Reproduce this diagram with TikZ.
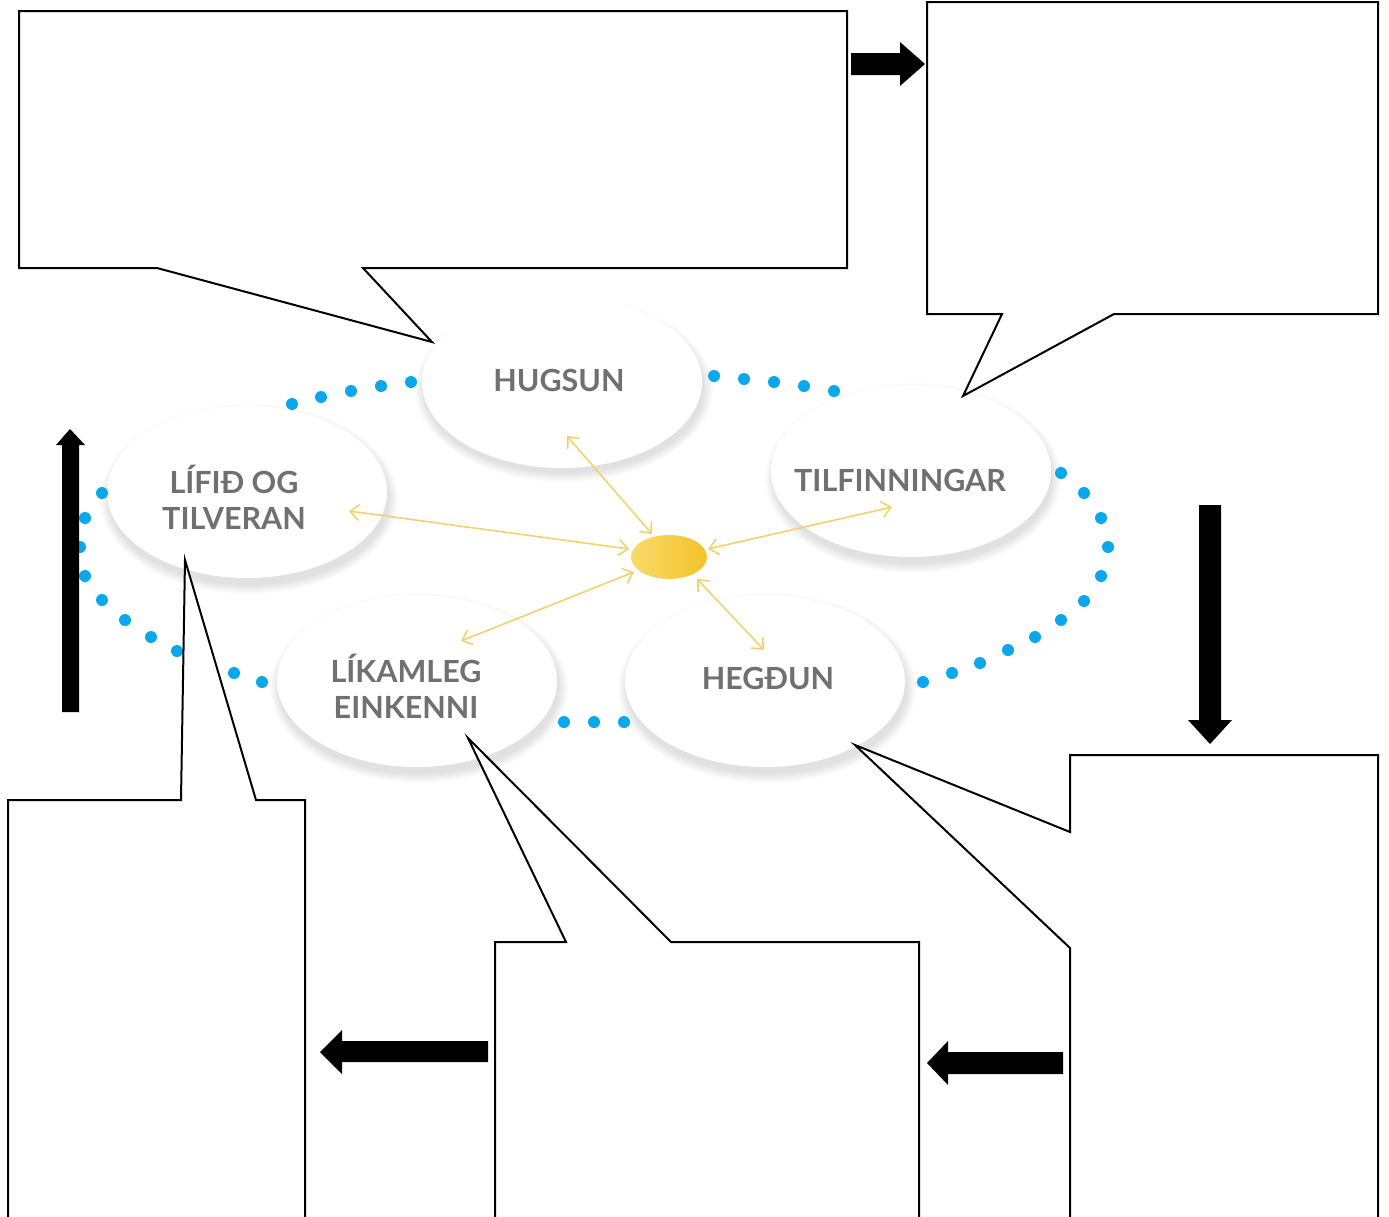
\documentclass[tikz,border=0pt]{standalone}
\usepackage{fontspec}
\usetikzlibrary{arrows.meta,shapes.geometric}
\newfontfamily\labfont{Lato}
\definecolor{labgray}{HTML}{707072}
\definecolor{dotblue}{HTML}{0AA8EA}
\definecolor{arrowyel}{HTML}{F3D26E}
\definecolor{sunA}{HTML}{F8DA6A}
\definecolor{sunB}{HTML}{F4C22A}
\tikzset{
  callout/.style={draw=black,fill=white,line width=2pt,line join=miter},
  blockarrow/.style={fill=black,draw=none},
  bubble/.style={ellipse,fill=white,draw=none,minimum width=280pt,minimum height=172pt,inner sep=0pt},
  lab/.style={text=labgray,font=\labfont\bfseries\fontsize{30.5}{36}\selectfont,align=center},
  dot/.style={fill=dotblue,draw=none},
  ray/.style={draw=arrowyel,line width=1.6pt,{Straight Barb[length=9pt,width=16pt]}-{Straight Barb[length=9pt,width=16pt]}},
}
\newcommand{\softshadow}[4]{%
  \foreach \i in {0,...,9}{
    \fill[black,opacity=0.012] (#1+2,#2+7) ellipse ({#3+\i*1.0} and {#4+\i*1.0});
  }%
}
\begin{document}
\begin{tikzpicture}[x=1pt,y=-1pt]
\useasboundingbox (0,0) rectangle (1389,1216);
\fill[white] (0,0) rectangle (1389,1216);

% soft shadows of bubbles
\softshadow{562}{382}{140}{84}
\softshadow{247}{492}{140}{86}
\softshadow{911}{471}{139}{86}
\softshadow{417}{681}{140}{86}
\softshadow{765}{681}{140}{86}

% bubbles
\node[bubble] (hug) at (562,382) {};
\node[bubble] (lif) at (247,492) {};
\node[bubble] (til) at (911,471) {};
\node[bubble] (lik) at (417,681) {};
\node[bubble] (heg) at (765,681) {};

% labels
\node[lab] (hugT) at (559,380) {HUGSUN};
\node[lab] (lifT) at (234,497) {LÍFIÐ OG\\TILVERAN};
\node[lab] (tilT) at (900,480) {TILFINNINGAR};
\node[lab] (likT) at (406,686) {LÍKAMLEG\\EINKENNI};
\node[lab] (hegT) at (768,678) {HEGÐUN};

% blue dots
\foreach \x/\y in {292/404,321/397,351/391,381/386,411/382,
  714/376,744/379,774/382,804/386,834/391,
  1061/473,1084/493,1101/518,1108/547,1101/576,1084/601,1061/620,1035/637,1008/650,980/663,952/673,923/682,
  564/722,594/722,624/722,
  102/493,85/518,80/547,85/576,102/600,125/620,151/637,177/651,205/663,234/673,262/682}
  \fill[dot] (\x,\y) circle (6);

% central sun
\node[ellipse,minimum width=76pt,minimum height=44pt,inner sep=0pt,left color=sunA,right color=sunB,draw=none] (sun) at (669,557) {};

% ray endpoints
\coordinate (rHa) at (567,436); \coordinate (rHb) at (652,534);
\coordinate (rLa) at (349,511); \coordinate (rLb) at (629,549);
\coordinate (rTa) at (892,507); \coordinate (rTb) at (708,549);
\coordinate (rKa) at (461,641); \coordinate (rKb) at (634,572);
\coordinate (rEa) at (764,650); \coordinate (rEb) at (697,579);
\draw[ray] (rHa) -- (rHb);
\draw[ray] (rLa) -- (rLb);
\draw[ray] (rTa) -- (rTb);
\draw[ray] (rKa) -- (rKb);
\draw[ray] (rEa) -- (rEb);

% callouts
\draw[callout] (19,11) -- (847,11) -- (847,268) -- (363,268) -- (432,342) -- (157,268) -- (19,268) -- cycle;
\draw[callout] (927,2) -- (1378,2) -- (1378,314) -- (1114,314) -- (963,396) -- (1002,314) -- (927,314) -- cycle;
\draw[callout] (8,800) -- (181,800) -- (185,560) -- (256,800) -- (305,800) -- (305,1230) -- (8,1230) -- cycle;
\draw[callout] (495,942) -- (566,942) -- (468,738) -- (671,942) -- (919,942) -- (919,1230) -- (495,1230) -- cycle;
\draw[callout] (1070,755) -- (1378,755) -- (1378,1230) -- (1070,1230) -- (1070,948) -- (855,745) -- (1070,832) -- cycle;

% block arrows
\fill[blockarrow] (851,53) -- (900,53) -- (900,42) -- (925,64) -- (900,86) -- (900,75) -- (851,75) -- cycle;
\fill[blockarrow] (1199,505) -- (1221,505) -- (1221,720) -- (1232,720) -- (1210,744) -- (1188,720) -- (1199,720) -- cycle;
\fill[blockarrow] (1063,1052) -- (948,1052) -- (948,1041) -- (927,1063) -- (948,1085) -- (948,1074) -- (1063,1074) -- cycle;
\fill[blockarrow] (488,1041) -- (342,1041) -- (342,1030) -- (320,1052) -- (342,1074) -- (342,1062) -- (488,1062) -- cycle;
\fill[blockarrow] (62,712) -- (62,445) -- (56,445) -- (70,429) -- (85,445) -- (79,445) -- (79,712) -- cycle;
\end{tikzpicture}
\end{document}
